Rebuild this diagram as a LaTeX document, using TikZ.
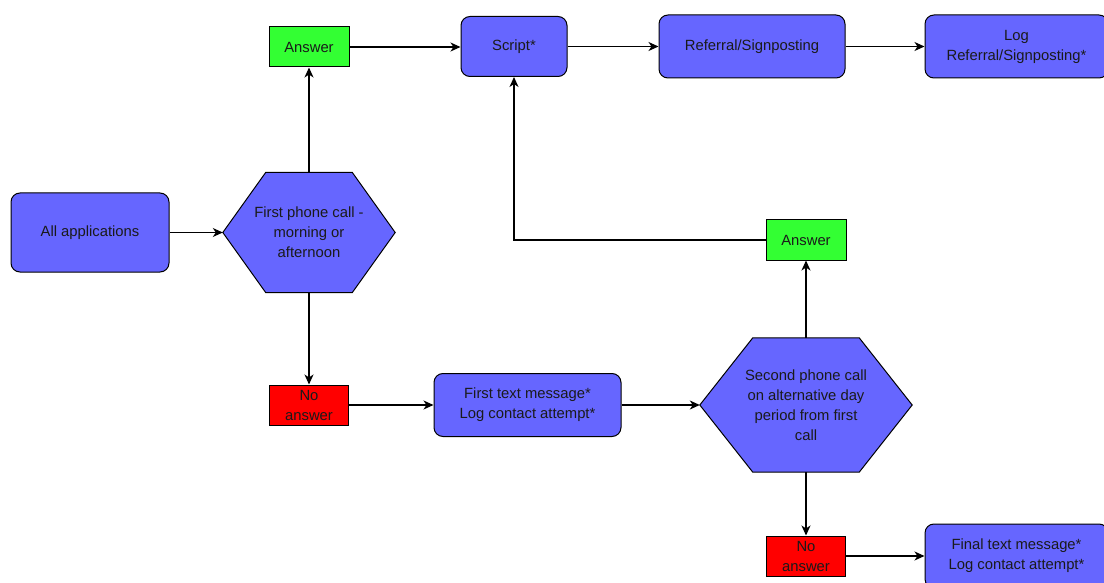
\documentclass[tikz,border=0pt]{standalone}
\usepackage{fontspec}
\setmainfont{Liberation Sans}
\usetikzlibrary{arrows.meta,backgrounds}
\definecolor{boxblue}{HTML}{6666FF}
\definecolor{boxgreen}{HTML}{33FF33}
\definecolor{boxred}{HTML}{FF0000}
\definecolor{txt}{HTML}{1A1A1A}
\begin{document}
\begin{tikzpicture}[x=1pt,y=-1pt,
  base/.style={inner sep=0pt,align=center,text=txt,font=\fontsize{14.8}{20}\selectfont},
  rbox/.style={base,draw=black,line width=1pt,fill=boxblue,rounded corners=9pt},
  ans/.style={base,draw=black,line width=1pt,fill=boxgreen,minimum width=80pt,minimum height=40pt},
  noans/.style={base,draw=black,line width=1pt,fill=boxred,minimum width=79pt,minimum height=40pt},
  hexnode/.style={base},
  hexfill/.style={draw=black,line width=1pt,fill=boxblue},
  arr/.style={draw=black,line width=1.2pt,-{Stealth[length=10pt,width=9pt,inset=3pt]}}]
\useasboundingbox (0,0) rectangle (1104,583);

\node[rbox,minimum width=158pt,minimum height=79pt] (all) at (90,232.5) {All applications};
\node[hexnode,minimum width=172pt,minimum height=120pt] (h1) at (309,232.5) {First phone call -\\morning or\\afternoon};
\node[ans] (a1) at (309,47) {Answer};
\node[rbox,minimum width=106pt,minimum height=60pt] (script) at (514,46.5) {Script*};
\node[rbox,minimum width=186pt,minimum height=63pt] (ref) at (752,46.5) {Referral/Signposting};
\node[rbox,minimum width=183pt,minimum height=63pt] (log) at (1016.5,46.5) {Log\\Referral/Signposting*};
\node[noans] (na1) at (309,405) {No\\answer};
\node[rbox,minimum width=187pt,minimum height=63pt] (ft1) at (527.5,405) {First text message*\\Log contact attempt*};
\node[hexnode,minimum width=212pt,minimum height=134pt] (h2) at (806,405) {Second phone call\\on alternative day\\period from first\\call};
\node[ans] (a2) at (806,240) {Answer};
\node[noans] (na2) at (806,556) {No\\answer};
\node[rbox,minimum width=183pt,minimum height=64pt] (final) at (1016.5,556) {Final text message*\\Log contact attempt*};

\begin{pgfonlayer}{background}
\fill[white] (0,0) rectangle (1104,583);
\path[hexfill] (h1.west) -- ([xshift=43pt]h1.north west) -- ([xshift=-43pt]h1.north east) -- (h1.east) -- ([xshift=-43pt]h1.south east) -- ([xshift=43pt]h1.south west) -- cycle;
\path[hexfill] (h2.west) -- ([xshift=53pt]h2.north west) -- ([xshift=-53pt]h2.north east) -- (h2.east) -- ([xshift=-53pt]h2.south east) -- ([xshift=53pt]h2.south west) -- cycle;
\end{pgfonlayer}

\draw[arr] (all.east) -- (h1.west);
\draw[arr] (h1.north) -- (a1.south);
\draw[arr] (h1.south) -- (na1.north);
\draw[arr] (a1.east) -- (a1.east -| script.west);
\draw[arr] (script.east) -- (ref.west);
\draw[arr] (ref.east) -- (log.west);
\draw[arr] (na1.east) -- (na1.east -| ft1.west);
\draw[arr] (ft1.east) -- (h2.west);
\draw[arr] (h2.north) -- (a2.south);
\draw[arr] (h2.south) -- (na2.north);
\draw[arr] (na2.east) -- (na2.east -| final.west);
\draw[arr] (a2.west) -| (script.south);
\end{tikzpicture}
\end{document}
